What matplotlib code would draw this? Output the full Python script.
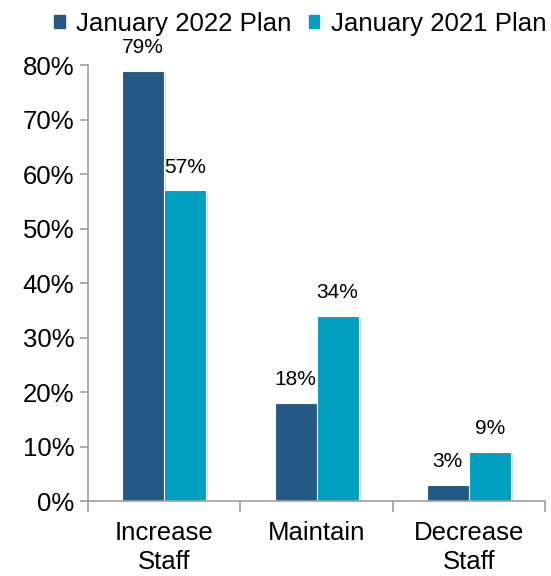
import numpy as np
import matplotlib.pyplot as plt
from matplotlib.patches import Patch
import matplotlib.patheffects as pe

plt.rcParams['font.family'] = ['Liberation Sans', 'DejaVu Sans']

# Data
categories = ['Increase\nStaff', 'Maintain', 'Decrease\nStaff']
plan_2022 = [79, 18, 3]
plan_2021 = [57, 34, 9]
series_names = ['January 2022 Plan', 'January 2021 Plan']
colors = ['#245985', '#00A0C0']

fig = plt.figure(figsize=(5.51, 5.76), dpi=100)
ax = fig.add_axes([0.16, 0.13, 0.829, 0.757])

x = np.arange(len(categories))
w = 0.276
shadow = [pe.SimplePatchShadow(offset=(1.5, -1.5), shadow_rgbFace='#888888', alpha=0.35), pe.Normal()]

for i, (vals, name) in enumerate(zip([plan_2022, plan_2021], series_names)):
    bars = ax.bar(x + (i - 0.5) * w, [v / 100 for v in vals], w, color=colors[i],
                  edgecolor='white', linewidth=0.8, label=name)
    for b in bars:
        b.set_path_effects(shadow)
    ax.bar_label(bars, labels=[f'{v}%' for v in vals], padding=10, fontsize=15)

ax.set_xlim(-0.5, 2.5)
ax.set_ylim(0, 0.8)
ax.set_yticks(np.arange(0, 0.81, 0.1))
ax.set_yticklabels([f'{int(round(t * 100))}%' for t in np.arange(0, 0.81, 0.1)], fontsize=18.5)
ax.set_xticks(x)
ax.set_xticklabels(categories, fontsize=18.5, linespacing=1.3)
ax.set_xticks([-0.5, 0.5, 1.5, 2.5], minor=True)
ax.tick_params(axis='x', which='major', length=0, pad=14)
ax.tick_params(axis='x', which='minor', length=8, color='#A0A0A0', width=1.2)
ax.tick_params(axis='y', length=6, color='#A0A0A0', width=1.2, pad=4)

for s in ['top', 'right']:
    ax.spines[s].set_visible(False)
for s in ['left', 'bottom']:
    ax.spines[s].set_color('#A0A0A0')
    ax.spines[s].set_linewidth(1.2)
ax.spines['bottom'].set_zorder(5)

handles = [Patch(color=c) for c in colors]
fig.legend(handles, series_names, loc='upper right', bbox_to_anchor=(1.034, 1.02), ncol=2,
           frameon=False, fontsize=18.6, handlelength=0.42, handleheight=0.42,
           handletextpad=0.45, columnspacing=0.65)

fig.savefig('out.png', dpi=100)
